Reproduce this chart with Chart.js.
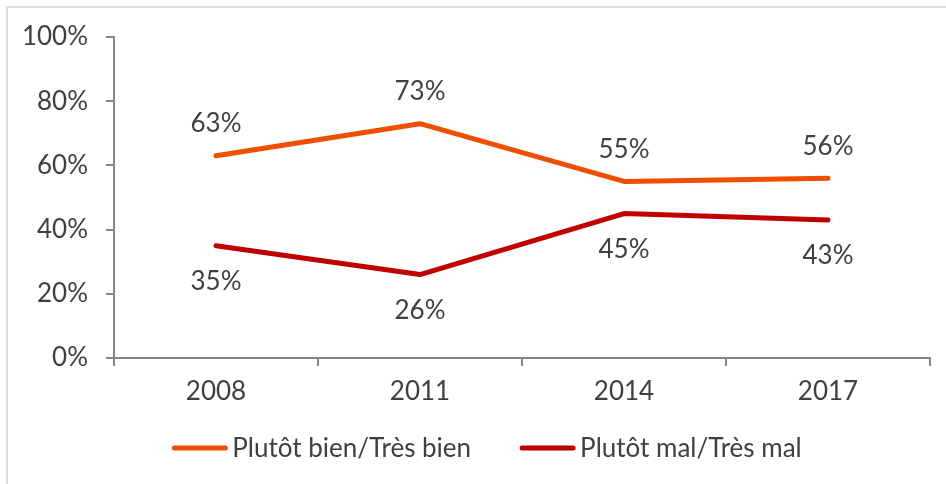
<!DOCTYPE html>
<html>
<head>
<meta charset="utf-8">
<script src="https://cdn.jsdelivr.net/npm/chart.js@4"></script>
<style>
  html, body { margin: 0; padding: 0; background: #fff; }
  #wrap { position: relative; width: 946px; height: 484px; overflow: hidden; }
  #frame { position: absolute; left: 6px; top: 6px; width: 1000px; height: 600px; border: 2px solid #dcdcdc; }
  #chart { position: absolute; left: 0; top: 0; }
</style>
</head>
<body>
<div id="wrap">
  <div id="frame"></div>
  <canvas id="chart" width="946" height="484"></canvas>
</div>
<script>
const years = ['2008', '2011', '2014', '2017'];
const bienLabel = 'Plutôt bien/Très bien';
const malLabel = 'Plutôt mal/Très mal';
const bienValues = [63, 73, 55, 56];
const malValues = [35, 26, 45, 43];

const TEXT_COLOR = '#404040';
const AXIS_COLOR = '#868686';
const FONT = { family: 'Lato', size: 26 };

// value labels: above the orange line, below the red one
const valueLabels = {
  id: 'value_labels',
  afterDatasetsDraw: (chart) => {
    const { ctx } = chart;
    ctx.save();
    ctx.font = `${FONT.size}px ${FONT.family}`;
    ctx.fillStyle = TEXT_COLOR;
    ctx.textAlign = 'center';
    ctx.textBaseline = 'middle';
    chart.data.datasets.forEach((ds, i) => {
      const meta = chart.getDatasetMeta(i);
      meta.data.forEach((pt, j) => {
        ctx.fillText(ds.data[j] + '%', pt.x, pt.y + ds.labelOffset);
      });
    });
    ctx.restore();
  }
};

// legend drawn by hand so the sample/text spacing matches the excel look
const lineLegend = {
  id: 'line_legend',
  afterDraw: (chart, args, options) => {
    const { ctx } = chart;
    ctx.save();
    ctx.font = `${FONT.size}px ${FONT.family}`;
    ctx.textBaseline = 'middle';
    ctx.textAlign = 'left';
    const items = chart.data.datasets.map(ds => ({
      text: ds.label,
      color: ds.borderColor,
      w: options.sample + options.gap + ctx.measureText(ds.label).width,
    }));
    const total = items.reduce((s, it) => s + it.w, 0) + options.itemGap * (items.length - 1);
    let x = options.centerX - total / 2;
    const y = options.y;
    items.forEach(it => {
      ctx.strokeStyle = it.color;
      ctx.lineWidth = 5;
      ctx.lineCap = 'round';
      ctx.beginPath();
      ctx.moveTo(x + 2, y);
      ctx.lineTo(x + options.sample - 2, y);
      ctx.stroke();
      ctx.fillStyle = TEXT_COLOR;
      ctx.fillText(it.text, x + options.sample + options.gap, y + 1);
      x += it.w + options.itemGap;
    });
    ctx.restore();
  }
};

const config = {
  type: 'line',
  data: {
    labels: years,
    datasets: [
      {
        label: bienLabel,
        data: bienValues,
        borderColor: '#F04E00',
        backgroundColor: '#F04E00',
        borderWidth: 5,
        borderCapStyle: 'round',
        borderJoinStyle: 'round',
        pointRadius: 0,
        tension: 0,
        labelOffset: -32,
      },
      {
        label: malLabel,
        data: malValues,
        borderColor: '#C00000',
        backgroundColor: '#C00000',
        borderWidth: 5,
        borderCapStyle: 'round',
        borderJoinStyle: 'round',
        pointRadius: 0,
        tension: 0,
        labelOffset: 36,
      }
    ]
  },
  options: {
    responsive: false,
    animation: false,
    layout: {
      padding: { left: 0, right: 16, top: 37, bottom: 0 }
    },
    plugins: {
      legend: { display: false },
      tooltip: { enabled: false },
      line_legend: { centerX: 487, y: 448, sample: 55, gap: 5, itemGap: 49 }
    },
    scales: {
      x: {
        offset: true,
        grid: {
          offset: true,
          drawOnChartArea: false,
          tickLength: 8,
          color: AXIS_COLOR,
          lineWidth: 2,
        },
        border: { color: AXIS_COLOR, width: 2 },
        ticks: { color: TEXT_COLOR, font: FONT, padding: 10 },
        afterFit: (scale) => { scale.height = 126; }
      },
      y: {
        min: 0,
        max: 100,
        ticks: {
          stepSize: 20,
          color: TEXT_COLOR,
          font: FONT,
          padding: 18,
          callback: (v) => v + '%'
        },
        grid: {
          drawOnChartArea: false,
          tickLength: 8,
          color: AXIS_COLOR,
          lineWidth: 2,
        },
        border: { color: AXIS_COLOR, width: 2 },
        afterFit: (scale) => { scale.width = 114; }
      }
    }
  },
  plugins: [valueLabels, lineLegend]
};

const chart = new Chart(document.getElementById('chart'), config);
</script>
</body>
</html>
